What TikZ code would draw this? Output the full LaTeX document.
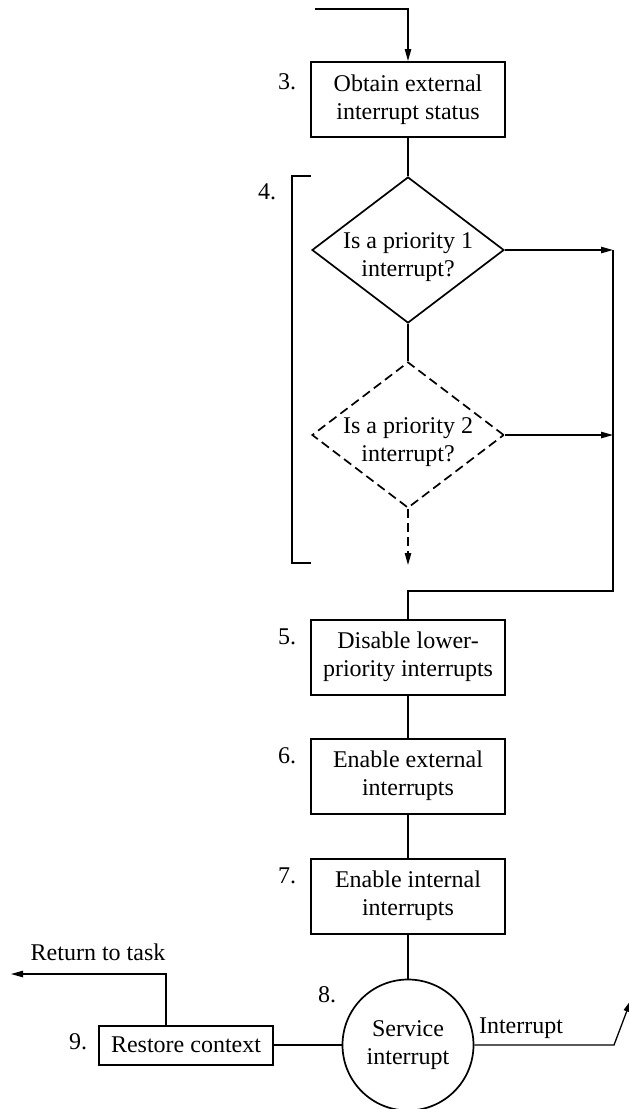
\documentclass[tikz,border=0pt]{standalone}
\usepackage{fontspec}
\setmainfont{Liberation Serif}
\usetikzlibrary{shapes.geometric,arrows.meta}
\begin{document}
\begin{tikzpicture}[x=0.5pt,y=-0.5pt, font=\fontsize{12}{14}\selectfont,
 box/.style={draw, line width=1pt, minimum width=97pt, minimum height=37.5pt, align=center, inner sep=0pt},
 dia/.style={draw, diamond, line width=0.85pt, minimum width=96pt, minimum height=73pt, inner sep=0pt},
 dtext/.style={align=center, inner sep=0pt},
 conn/.style={line width=0.65pt},
 arr/.style={conn, -{Triangle[length=6pt,width=3.2pt]}},
 dsh/.style={dash pattern=on 4.5pt off 2.5pt},
 num/.style={inner sep=0pt}]
\useasboundingbox (0,0) rectangle (628,1109);

% nodes
\node[box] (b3) at (408,99.5) {Obtain external\\interrupt status};
\node[dia] (d1) at (408,250) {};
\node[dtext] (t1) at (408,257) {Is a priority 1\\interrupt?};
\node[dia, dsh] (d2) at (408,435) {};
\node[dtext] (t2) at (408,442) {Is a priority 2\\interrupt?};
\node[box] (b5) at (408,657) {Disable lower-\\priority interrupts};
\node[box] (b6) at (408,776) {Enable external\\interrupts};
\node[box] (b7) at (408,896) {Enable internal\\interrupts};
\node[circle, draw, line width=0.85pt, minimum size=65.5pt, align=center, inner sep=0pt] (c8) at (408,1045) {Service\\interrupt};
\node[box, minimum width=87pt, minimum height=19.5pt] (b9) at (186,1045) {Restore context};

% step numbers
\node[num] (n3) at (287,82) {3.};
\node[num] (n4) at (267,192) {4.};
\node[num] (n5) at (287,637) {5.};
\node[num] (n6) at (287,756) {6.};
\node[num] (n7) at (287,876) {7.};
\node[num] (n8) at (327,995) {8.};
\node[num] (n9) at (78,1042) {9.};

% other labels
\node[inner sep=0pt] (lret) at (98,952) {Return to task};
\node[inner sep=0pt] (lint) at (521,1028) {Interrupt};

% coordinates
\coordinate (in0) at (315,9);
\coordinate (r1) at (613,250);
\coordinate (r2) at (613,435);
\coordinate (rb) at (613,591);
\coordinate (d2out) at (408,565);
\coordinate (ret) at (11,974);
\coordinate (intA) at (614,1045);
\coordinate (intB) at (631,1000);

% bracket
\draw[line width=1pt] (311,176) -| (292,563) -- (311,563);

% connectors
\draw[arr] (in0) -| (b3.north);
\draw[conn] (b3.south) -- (d1.north);
\draw[arr] (d1.east) -- (r1);
\draw[conn] (d1.south) -- (d2.north);
\draw[arr, dsh] (d2.south) -- (d2out);
\draw[arr] (d2.east) -- (r2);
\draw[conn] (r1) -- (rb) -| (b5.north);
\draw[conn] (b5.south) -- (b6.north);
\draw[conn] (b6.south) -- (b7.north);
\draw[conn] (b7.south) -- (c8.north);
\draw[conn] (c8.west) -- (b9.east);
\draw[arr] ([xshift=-10pt]b9.north) |- (ret);
\draw[arr] (c8.east) -- (intA) -- (intB);
\end{tikzpicture}
\end{document}
